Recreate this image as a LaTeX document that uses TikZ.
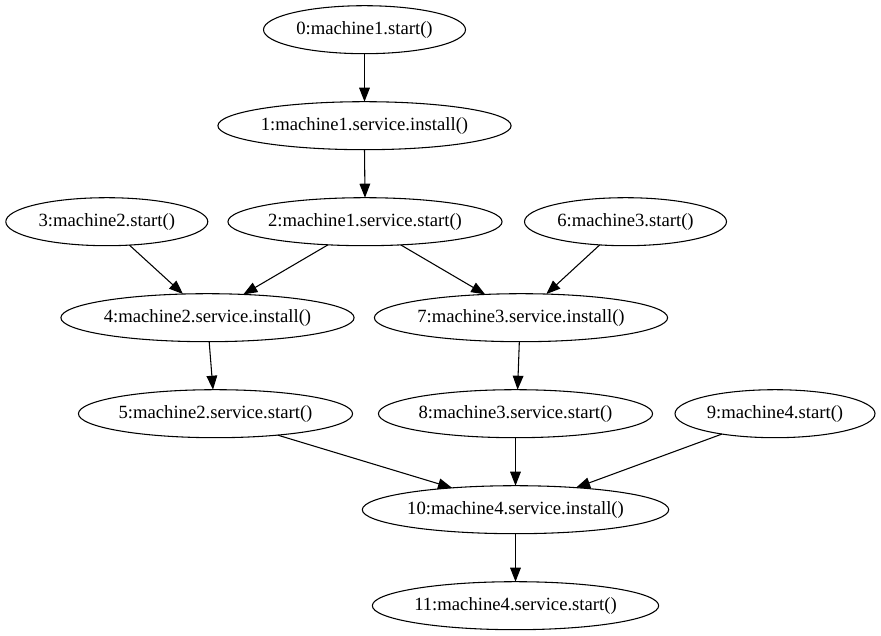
\documentclass[tikz,border=0pt]{standalone}
\usepackage{fontspec}
\setmainfont{Liberation Serif}
\usetikzlibrary{arrows.meta,shapes.geometric}
\begin{document}
\begin{tikzpicture}[x=0.75pt,y=-0.75pt,
  gnode/.style={draw, ellipse, line width=0.8pt, inner sep=0pt, outer sep=0pt,
    minimum height=36pt, font=\fontsize{14pt}{16pt}\selectfont},
  sw/.style={gnode, minimum width=151.5pt},
  iw/.style={gnode, minimum width=216.75pt},
  tw/.style={gnode, minimum width=204pt},
  edge/.style={line width=0.8pt, -{Triangle[length=10.5pt,width=8pt]}}]
\useasboundingbox (0,0) rectangle (881,635);
\node[sw] (n0) at (364.5,29.7) {0:machine1.start()};
\node[iw] (n1) at (364.5,125.7) {1:machine1.service.install()};
\node[sw] (n3) at (106.8,221.7) {3:machine2.start()};
\node[tw] (n2) at (365,221.7) {2:machine1.service.start()};
\node[sw] (n6) at (625.5,221.7) {6:machine3.start()};
\node[iw] (n4) at (207.5,317.7) {4:machine2.service.install()};
\node[iw, minimum width=217.5pt] (n7) at (521,317.7) {7:machine3.service.install()};
\node[tw, minimum width=204.75pt] (n5) at (215.5,413.7) {5:machine2.service.start()};
\node[tw, minimum width=204.75pt] (n8) at (515.5,413.7) {8:machine3.service.start()};
\node[sw, minimum width=150pt] (n9) at (775,413.7) {9:machine4.start()};
\node[iw, minimum width=225.75pt] (n10) at (515.5,509.7) {10:machine4.service.install()};
\node[tw, minimum width=213pt] (n11) at (515.5,605.7) {11:machine4.service.start()};
\draw[edge] (n0.south) -- (n1.north);
\draw[edge] (n1.south) -- (n2.north);
\draw[edge] (n3.314) -- (n4.136.6);
\draw[edge] (n2.212.4) -- (n4.33.8);
\draw[edge] (n2.327.6) -- (n7.147.1);
\draw[edge] (n6.222.4) -- (n7.43.5);
\draw[edge] (n4.274.3) -- (n5.96.5);
\draw[edge] (n7.266) -- (n8.85.8);
\draw[edge] (n5.341.2) -- (n10.161.9);
\draw[edge] (n8.south) -- (n10.north);
\draw[edge] (n9.201.1) -- (n10.20.3);
\draw[edge] (n10.south) -- (n11.north);
\end{tikzpicture}
\end{document}
